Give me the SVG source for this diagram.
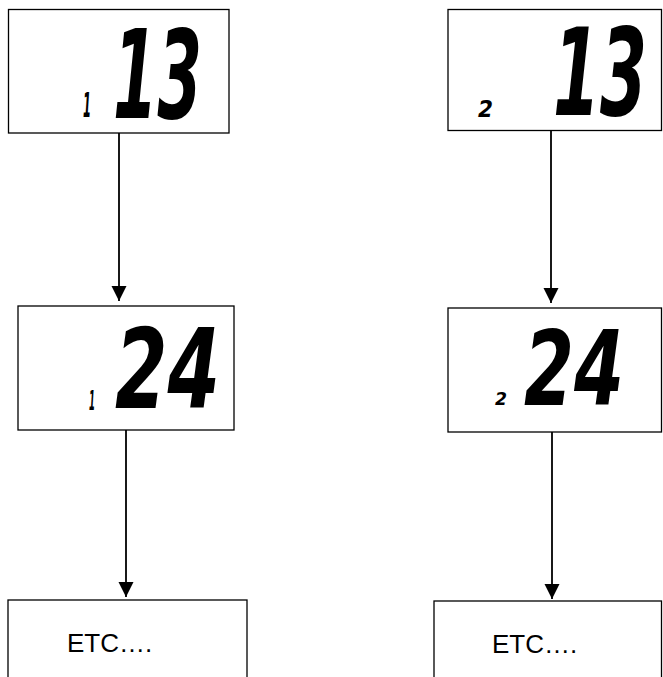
<svg xmlns="http://www.w3.org/2000/svg" width="663" height="677" viewBox="0 0 663 677">
<style>
.box{fill:#fff;stroke:#000;stroke-width:1.3}
.conn{stroke:#000;stroke-width:1.8;fill:none}
.lcd{font-family:"DejaVu Sans",sans-serif;font-weight:bold;font-style:oblique;fill:#000}
.etc{font-family:"Liberation Sans",Arial,sans-serif;font-size:26px;fill:#000}
</style>
<defs>
<marker id="arr" markerUnits="userSpaceOnUse" markerWidth="16" markerHeight="16" refX="15" refY="7.5" orient="auto">
<path d="M0,0 L15,7.5 L0,15 z" fill="#000"/>
</marker>
</defs>
<rect width="663" height="677" fill="#fff"/>
<g id="connectors">
<line class="conn" x1="119" y1="133" x2="119" y2="301" marker-end="url(#arr)"/>
<line class="conn" x1="551" y1="131" x2="551" y2="303" marker-end="url(#arr)"/>
<line class="conn" x1="126" y1="430" x2="126" y2="597" marker-end="url(#arr)"/>
<line class="conn" x1="552" y1="432" x2="552" y2="599" marker-end="url(#arr)"/>
</g>
<g id="node-l1">
<rect class="box" x="8.5" y="9.5" width="220.5" height="123.5"/>
<text class="lcd" x="83" y="117" font-size="33" textLength="8" lengthAdjust="spacingAndGlyphs">1</text>
<text class="lcd" x="113" y="118" font-size="123" textLength="89" lengthAdjust="spacingAndGlyphs">13</text>
</g>
<g id="node-r1">
<rect class="box" x="448" y="9.5" width="213.5" height="121"/>
<text class="lcd" x="478" y="117" font-size="23" textLength="15" lengthAdjust="spacingAndGlyphs">2</text>
<text class="lcd" x="553" y="115" font-size="121" textLength="94" lengthAdjust="spacingAndGlyphs">13</text>
</g>
<g id="node-l2">
<rect class="box" x="18" y="306" width="216" height="124"/>
<text class="lcd" x="89" y="410" font-size="27" textLength="6" lengthAdjust="spacingAndGlyphs">1</text>
<text class="lcd" x="115" y="408" font-size="111" textLength="105" lengthAdjust="spacingAndGlyphs">24</text>
</g>
<g id="node-r2">
<rect class="box" x="448" y="308" width="213.5" height="124"/>
<text class="lcd" x="495" y="405" font-size="18" textLength="12" lengthAdjust="spacingAndGlyphs">2</text>
<text class="lcd" x="524" y="405" font-size="103" textLength="100" lengthAdjust="spacingAndGlyphs">24</text>
</g>
<g id="node-l3">
<rect class="box" x="8" y="600" width="239" height="100"/>
<text class="etc" x="67" y="652">ETC….</text>
</g>
<g id="node-r3">
<rect class="box" x="434" y="601" width="227.5" height="100"/>
<text class="etc" x="492" y="653">ETC….</text>
</g>
</svg>
